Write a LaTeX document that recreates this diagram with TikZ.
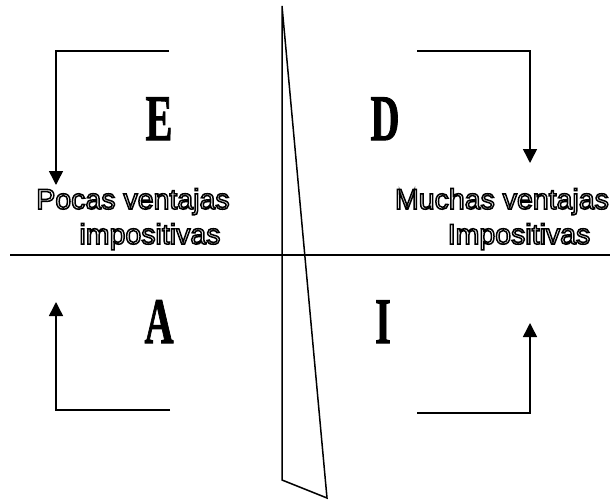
\documentclass[tikz,border=0pt]{standalone}
\usepackage{fontspec}
\setmainfont{Liberation Serif}
\newfontfamily\lblfont{Liberation Sans}
\newfontfamily\letfont[FakeBold=1.6]{Liberation Serif Bold}
\usetikzlibrary{arrows.meta}
\tikzset{
  ln/.style={line width=1.5pt, line cap=butt},
  arr/.style={ln, -{Triangle[width=14pt,length=14pt]}},
  bigletter/.style={anchor=base, inner sep=0pt, font=\letfont\fontsize{65}{65}\selectfont},
  hollow/.style={anchor=base, inner sep=0pt, font=\lblfont\fontsize{28.5}{28.5}\selectfont},
}
\newcommand{\hol}[1]{\special{pdf:literal direct 1 Tr 1.5 w}#1\special{pdf:literal direct 0 Tr 0.4 w}}
\begin{document}
\begin{tikzpicture}[x=1pt,y=-1pt]
\useasboundingbox (0,0) rectangle (612,503);
% axis
\coordinate (hl) at (10,255);
\coordinate (hr) at (610,255);
\draw[ln] (hl) -- (hr);
% wedge
\coordinate (wt) at (282,6);
\coordinate (wb) at (282,480);
\coordinate (wr) at (327,498);
\draw[ln, line join=miter] (wt) -- (wb) -- (wr) -- cycle;
% brackets
\coordinate (a1) at (169,51); \coordinate (a2) at (56,51); \coordinate (a3) at (56,185);
\draw[arr] (a1) -- (a2) -- (a3);
\coordinate (b1) at (417,51); \coordinate (b2) at (530,51); \coordinate (b3) at (530,163);
\draw[arr] (b1) -- (b2) -- (b3);
\coordinate (c1) at (170,410); \coordinate (c2) at (56,410); \coordinate (c3) at (56,302);
\draw[arr] (c1) -- (c2) -- (c3);
\coordinate (d1) at (417,413); \coordinate (d2) at (530,413); \coordinate (d3) at (530,323);
\draw[arr] (d1) -- (d2) -- (d3);
% letters
\node[bigletter] (E) at (159,140) {\scalebox{0.62}[1]{E}};
\node[bigletter] (D) at (385,140) {\scalebox{0.62}[1]{D}};
\node[bigletter] (A) at (159,343) {\scalebox{0.62}[1]{A}};
\node[bigletter] (I) at (383,343) {\scalebox{0.62}[1]{I}};
% labels
\node[hollow] (p1) at (133,209) {\hol{Pocas ventajas}};
\node[hollow] (p2) at (150,244) {\hol{impositivas}};
\node[hollow] (m1) at (502,209) {\hol{Muchas ventajas}};
\node[hollow] (m2) at (519,244) {\hol{Impositivas}};
\end{tikzpicture}
\end{document}
